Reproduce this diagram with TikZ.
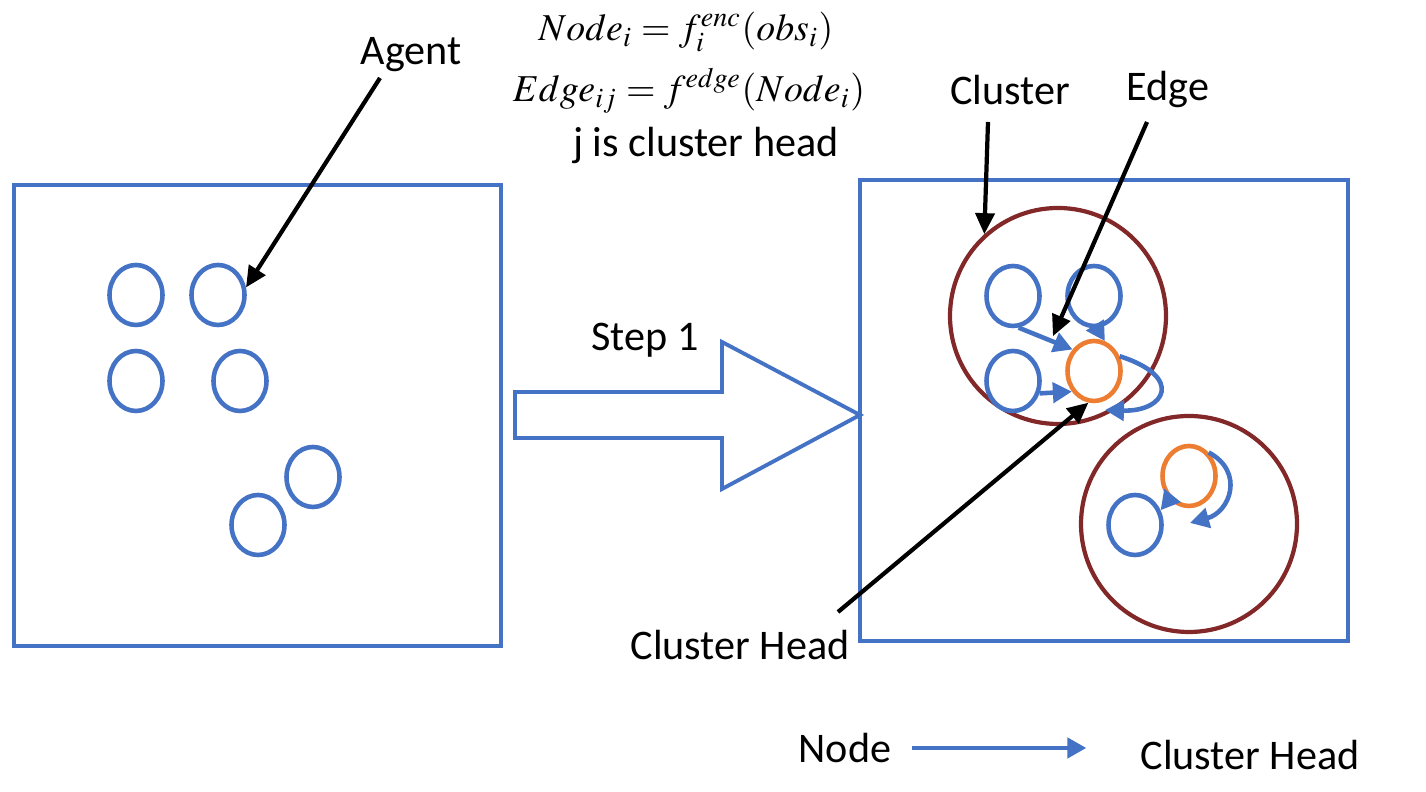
\documentclass[tikz,border=0pt]{standalone}
\usepackage{mathptmx}
\usepackage{fontspec}
\setmainfont{Carlito}
\usetikzlibrary{arrows.meta,shapes.geometric}
\definecolor{agentblue}{RGB}{68,114,196}
\definecolor{headorange}{RGB}{237,125,49}
\definecolor{clusterred}{RGB}{130,40,40}

\begin{document}
\begin{tikzpicture}[auto,
    txt/.style={font=\fontsize{12}{14}\selectfont, inner sep=1pt},
    formula/.style={font=\fontsize{10.8}{13}\selectfont, inner sep=0pt},
    agent/.style={ellipse, draw=agentblue, line width=1.3pt, fill=white, minimum width=0.53cm, minimum height=0.60cm, inner sep=0pt},
    head/.style={agent, draw=headorange},
    cluster/.style={circle, draw=clusterred, line width=1.2pt, minimum size=2.16cm, inner sep=0pt},
    frame/.style={draw=agentblue, line width=1.1pt},
    edge/.style={draw=agentblue, line width=1.3pt, -{Triangle[length=1.9mm,width=2mm]}},
    pointer/.style={line width=1.2pt, -{Triangle[length=2.1mm,width=1.9mm]}}]

    \useasboundingbox (0,0) rectangle (14.26,7.92);

    \draw [frame] (0.14,1.46) rectangle (5.01,6.07);
    \draw [frame] (8.60,1.51) rectangle (13.48,6.12);
    \draw [frame, fill=white] (5.15,3.54) -- (7.22,3.54) -- (7.22,3.03) -- (8.60,3.77)
        -- (7.22,4.50) -- (7.22,4.00) -- (5.15,4.00) -- cycle;

    \node (fnode) [formula] at (6.86,7.60) {$Node_i = f_i^{enc}(obs_i)$};
    \node (fedge) [formula] at (6.89,7.01) {$Edge_{ij} = f^{edge}(Node_i)$};
    \node (fhead) [txt] at (7.06,6.47) {j is cluster head};

    \node (lagent) [txt] at (4.11,7.37) {Agent};
    \node (lstep) [txt] at (6.45,4.52) {Step 1};
    \node (lcluster) [txt] at (10.10,7.02) {Cluster};
    \node (ledge) [txt] at (11.68,7.02) {Edge};
    \node (lchead) [txt] at (7.40,1.47) {Cluster Head};
    \node (lnode) [txt] at (8.45,0.44) {Node};
    \node (lhead) [txt] at (12.50,0.37) {Cluster Head};

    \node (a1) [agent] at (1.36,4.97) {};
    \node (a2) [agent] at (2.18,4.97) {};
    \node (a3) [agent] at (1.36,4.11) {};
    \node (a4) [agent] at (2.40,4.11) {};
    \node (a5) [agent] at (3.13,3.15) {};
    \node (a6) [agent] at (2.58,2.67) {};

    \node (c1) [cluster] at (10.58,4.76) {};
    \node (c2) [cluster] at (11.89,2.68) {};

    \node (n1) [agent] at (10.13,4.96) {};
    \node (n2) [agent] at (10.94,4.96) {};
    \node (n3) [agent] at (10.13,4.11) {};
    \node (h1) [head] at (10.94,4.21) {};
    \node (h2) [head] at (11.89,3.16) {};
    \node (n4) [agent] at (11.35,2.67) {};

    \coordinate (h1loop) at (11.05,3.82);
    \coordinate (h2loop) at (11.90,2.69);
    \coordinate (tagent) at (3.80,7.14);
    \coordinate (tcluster) at (9.88,6.70);
    \coordinate (tedge) at (11.47,6.70);
    \coordinate (tchead) at (8.38,1.80);

    \draw [edge] (n1.-80) to coordinate[pos=0.6] (emid) (h1.135);
    \draw [edge] (n2.-85) to (h1.70);
    \draw [edge] (n3.-25) to (h1.-137);
    \draw [edge] (h1.30) .. controls (11.85,4.15) and (11.65,3.80) .. (h1loop);
    \draw [edge] (h2.-130) to (n4.30);
    \draw [edge] (h2.50) .. controls (12.45,3.20) and (12.30,2.80) .. (h2loop);
    \draw [edge, shorten <=0.16cm, shorten >=0.5cm] (lnode.east) to (lnode.east -| lhead.west);

    \draw [pointer] (tagent) to (a2.15);
    \draw [pointer] (tcluster) to (c1.132);
    \draw [pointer, shorten >=0.05cm] (tedge) to (emid);
    \draw [pointer] (tchead) to (h1.-100);

\end{tikzpicture}
\end{document}
